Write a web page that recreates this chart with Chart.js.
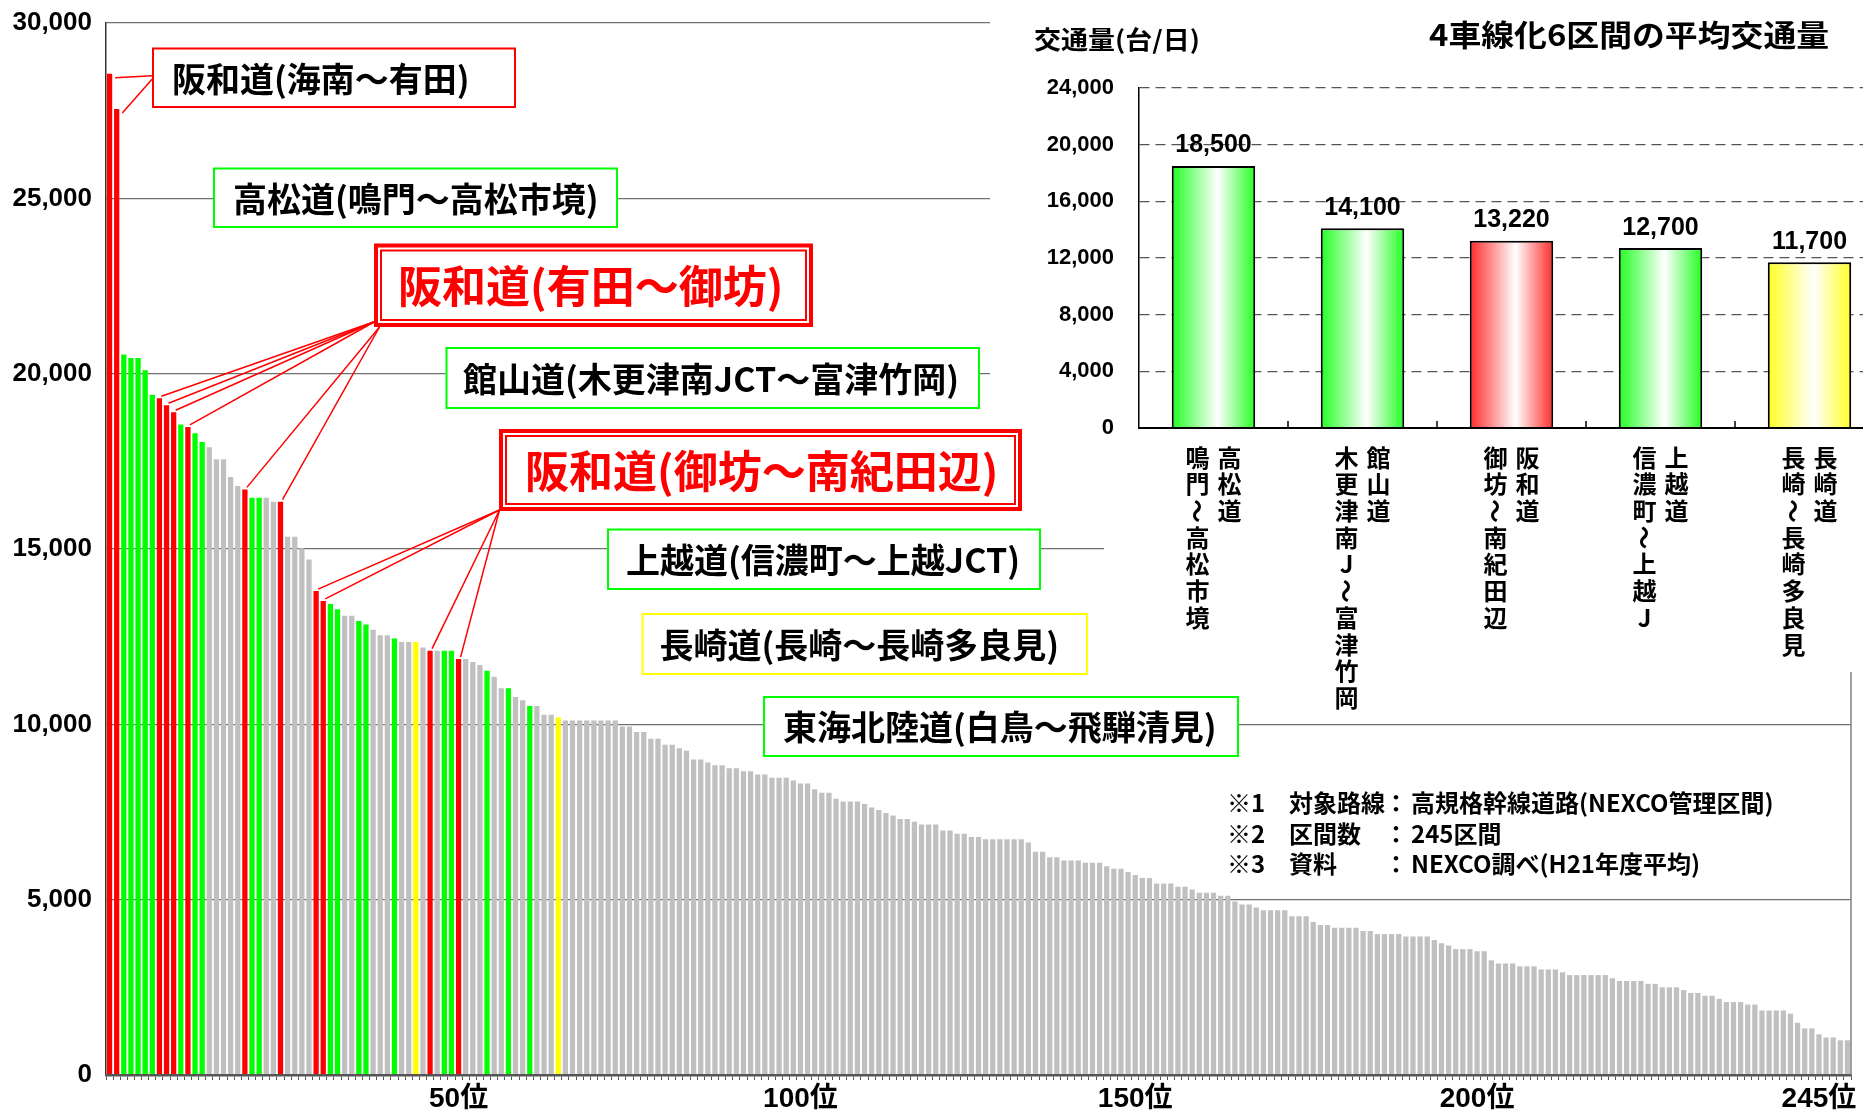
<!DOCTYPE html>
<html lang="ja">
<head>
<meta charset="utf-8">
<title>高規格幹線道路 区間別交通量</title>
<script src="https://cdn.jsdelivr.net/npm/chart.js@4.4.1/dist/chart.umd.min.js"></script>
<style>
  html, body { margin: 0; padding: 0; background: #fff; overflow: hidden; }
  #wrap { position: relative; width: 1863px; height: 1113px; overflow: hidden; background: #fff; }
  #main { position: absolute; left: 0; top: 0; }
  #inset { position: absolute; left: 990px; top: 0; }
</style>
</head>
<body>
<div id="wrap">
  <canvas id="main" width="1863" height="1113"></canvas>
  <canvas id="inset" width="920" height="720"></canvas>
</div>
<script>
// 区間別 平均交通量（台/日）: 1位〜245位
const trafficByRank = [
  28550, 27550, 20550, 20450, 20450, 20100, 19400, 19300, 19100, 18900,
  18550, 18480, 18300, 18050, 17900, 17560, 17560, 17050, 16800, 16700,
  16460, 16460, 16460, 16350, 16350, 15350, 15350, 15020, 14700, 13800,
  13520, 13430, 13280, 13100, 13100, 12950, 12850, 12700, 12540, 12540,
  12450, 12350, 12350, 12350, 12190, 12100, 12100, 12100, 12100, 11860,
  11860, 11780, 11690, 11530, 11360, 11030, 11030, 10780, 10690, 10520,
  10520, 10270, 10270, 10200, 10110, 10110, 10110, 10110, 10110, 10110,
  10110, 10110, 9940, 9940, 9780, 9780, 9590, 9590, 9420, 9420,
  9320, 9250, 9000, 9000, 8910, 8830, 8830, 8750, 8750, 8660,
  8660, 8570, 8570, 8480, 8480, 8480, 8400, 8310, 8310, 8150,
  8050, 8050, 7880, 7800, 7800, 7800, 7730, 7630, 7560, 7470,
  7400, 7300, 7300, 7220, 7140, 7140, 7140, 6970, 6970, 6880,
  6880, 6790, 6790, 6720, 6720, 6720, 6720, 6720, 6720, 6630,
  6370, 6370, 6210, 6210, 6120, 6120, 6120, 6050, 6050, 6050,
  5950, 5880, 5880, 5790, 5700, 5620, 5620, 5460, 5460, 5460,
  5370, 5370, 5290, 5200, 5200, 5200, 5110, 5110, 4950, 4860,
  4860, 4780, 4700, 4700, 4700, 4700, 4530, 4530, 4530, 4360,
  4280, 4280, 4200, 4200, 4200, 4200, 4110, 4110, 4020, 4020,
  4020, 4020, 3950, 3950, 3950, 3950, 3850, 3760, 3690, 3590,
  3590, 3590, 3530, 3530, 3270, 3180, 3180, 3180, 3100, 3100,
  3100, 3010, 3010, 3010, 2930, 2850, 2850, 2850, 2850, 2850,
  2850, 2760, 2680, 2680, 2680, 2680, 2600, 2600, 2500, 2500,
  2500, 2420, 2340, 2340, 2260, 2260, 2170, 2080, 2080, 2080,
  2010, 2010, 1840, 1840, 1840, 1840, 1750, 1490, 1330, 1330,
  1160, 1070, 1070, 990, 990
];

// 4車線化区間の順位（阪和道・緑の4路線・長崎道）
const redRanks = [1, 2, 8, 9, 10, 12, 20, 25, 30, 31, 46, 50];
const greenRanks = [3, 4, 5, 6, 7, 11, 13, 14, 21, 22, 32, 33, 36, 37, 41, 48, 49, 54, 57, 60];
const yellowRanks = [44, 64];

const ranks = trafficByRank.map((_, i) => i + 1);
const yTicks = [0, 5000, 10000, 15000, 20000, 25000, 30000];
// rank labels and the bar they sit under along the axis
const rankTickLabels = { 50: '50位', 98: '100位', 145: '150位', 193: '200位', 241: '245位' };

// 4車線化6区間の平均交通量
const insetRoutes = ['高松道', '館山道', '阪和道', '上越道', '長崎道'];
const insetSections = ['鳴門～高松市境', '木更津南J～富津竹岡', '御坊～南紀田辺', '信濃町～上越J', '長崎～長崎多良見'];
const insetValues = [18500, 14100, 13220, 12700, 11700];
const insetKinds = ['green', 'green', 'red', 'green', 'yellow'];
const insetTicks = [0, 4000, 8000, 12000, 16000, 20000, 24000];

const footnotes = [
  ['※1', '対象路線', '高規格幹線道路(NEXCO管理区間)'],
  ['※2', '区間数', '245区間'],
  ['※3', '資料', 'NEXCO調べ(H21年度平均)']
];

const BAR = { red: '#ff0000', green: '#00ff00', yellow: '#ffff00', gray: '#c0c0c0' };
const GRAD = { red: '#ff2a2a', green: '#22ff22', yellow: '#ffff22' };
const DIGITS = "'Liberation Sans', Arial, 'Noto Sans CJK JP', sans-serif";
const CJK = "'Noto Sans CJK JP', 'Noto Sans CJK SC', sans-serif";

const barColors = ranks.map(r =>
  redRanks.includes(r) ? BAR.red :
  greenRanks.includes(r) ? BAR.green :
  yellowRanks.includes(r) ? BAR.yellow : BAR.gray);

// callout boxes over the ranking chart: [x, y, w, h]
const labelBoxes = [
  { text: '阪和道(海南～有田)', rect: [152, 47.5, 364, 60.5], edge: BAR.red, double: false, ink: '#000', size: 34, pad: 20 },
  { text: '高松道(鳴門～高松市境)', rect: [213, 167.5, 405, 60.5], edge: BAR.green, double: false, ink: '#000', size: 34, pad: 20 },
  { text: '阪和道(有田～御坊)', rect: [374, 243.5, 439, 83.5], edge: BAR.red, double: true, ink: '#ff0000', size: 44, pad: 24 },
  { text: '館山道(木更津南JCT～富津竹岡)', rect: [445.5, 347, 534.5, 62], edge: BAR.green, double: false, ink: '#000', size: 34, pad: 17.5 },
  { text: '阪和道(御坊～南紀田辺)', rect: [499, 429, 523, 82], edge: BAR.red, double: true, ink: '#ff0000', size: 44, pad: 26 },
  { text: '上越道(信濃町～上越JCT)', rect: [607, 528.5, 434, 61.5], edge: BAR.green, double: false, ink: '#000', size: 34, pad: 19 },
  { text: '長崎道(長崎～長崎多良見)', rect: [641.5, 613, 446.5, 62], edge: BAR.yellow, double: false, ink: '#000', size: 34, pad: 18 },
  { text: '東海北陸道(白鳥～飛騨清見)', rect: [763, 696, 476, 61], edge: BAR.green, double: false, ink: '#000', size: 34, pad: 20 }
];

// leader lines from the 阪和道 boxes to their bars
const leaders = [
  { from: [152, 75.7], ranks: [1], tip: 'side' },
  { from: [152, 79.3], ranks: [2], tip: 'side' },
  { from: [375, 321.5], ranks: [8, 9, 10, 12], tip: 'top' },
  { from: [379.5, 327], ranks: [20, 25], tip: 'top' },
  { from: [499.5, 510], ranks: [30, 31, 46, 50], tip: 'top' }
];

function drawText(ctx, str, x, y, font, color, align, scaleX) {
  ctx.save();
  ctx.font = font;
  ctx.fillStyle = color;
  ctx.textAlign = align || 'left';
  ctx.textBaseline = 'middle';
  ctx.translate(x, y);
  ctx.scale(scaleX || 1, 1);
  ctx.fillText(str, 0, 0);
  ctx.restore();
}

const mainDecor = {
  id: 'mainDecor',
  afterDraw(chart) {
    const ctx = chart.ctx;
    const area = chart.chartArea;
    const bars = chart.getDatasetMeta(0).data;

    // plot-area right edge
    ctx.save();
    ctx.strokeStyle = '#808080';
    ctx.lineWidth = 1.5;
    ctx.beginPath();
    ctx.moveTo(area.right, area.top);
    ctx.lineTo(area.right, area.bottom);
    ctx.stroke();
    ctx.restore();

    // boxes
    labelBoxes.forEach(b => {
      const [x, y, w, h] = b.rect;
      ctx.save();
      ctx.fillStyle = '#fff';
      ctx.fillRect(x, y, w, h);
      ctx.strokeStyle = b.edge;
      if (b.double) {
        ctx.lineWidth = 4;
        ctx.strokeRect(x + 2, y + 2, w - 4, h - 4);
        ctx.lineWidth = 2;
        ctx.strokeRect(x + 7, y + 7, w - 14, h - 14);
      } else {
        ctx.lineWidth = 2;
        ctx.strokeRect(x + 1, y + 1, w - 2, h - 2);
      }
      ctx.restore();
      drawText(ctx, b.text, x + b.pad, y + h / 2 + 1, `bold ${b.size}px ${CJK}`, b.ink, 'left', 1);
    });

    // leaders
    ctx.save();
    ctx.strokeStyle = '#ff0000';
    ctx.lineWidth = 1.5;
    leaders.forEach(l => {
      l.ranks.forEach(r => {
        const el = bars[r - 1];
        const tx = l.tip === 'side' ? el.x + el.width / 2 + 3 : el.x + 2;
        const ty = l.tip === 'side' ? el.y + 4 : el.y - 2;
        ctx.beginPath();
        ctx.moveTo(l.from[0], l.from[1]);
        ctx.lineTo(tx, ty);
        ctx.stroke();
      });
    });
    ctx.restore();

    // notes
    const nf = `bold 24px ${CJK}`;
    footnotes.forEach((row, k) => {
      const y = 803 + k * 30.5;
      drawText(ctx, row[0], 1227, y, nf, '#000', 'left', 1);
      drawText(ctx, row[1], 1289, y, nf, '#000', 'left', 1);
      drawText(ctx, '：', 1396, y, nf, '#000', 'center', 1);
      drawText(ctx, row[2], 1411, y, nf, '#000', 'left', 1);
    });
  }
};

new Chart(document.getElementById('main'), {
  type: 'bar',
  data: {
    labels: ranks,
    datasets: [{
      data: trafficByRank,
      backgroundColor: barColors,
      borderWidth: 0,
      barPercentage: 0.74,
      categoryPercentage: 1.0
    }]
  },
  options: {
    responsive: false,
    animation: false,
    events: [],
    layout: { padding: { top: 23, right: 12, left: 0, bottom: 0 } },
    plugins: { legend: { display: false }, tooltip: { enabled: false } },
    scales: {
      x: {
        grid: { offset: true, drawOnChartArea: false, drawTicks: true, tickLength: 5, color: '#555', lineWidth: 1 },
        border: { color: '#555', width: 2.5, z: 1 },
        ticks: {
          autoSkip: false, maxRotation: 0, minRotation: 0, padding: 2, color: '#000',
          font: { family: DIGITS, size: 28, weight: 'bold' },
          callback: (v, i) => rankTickLabels[i + 1] || ''
        },
        afterFit: s => { s.height = 38; s.paddingLeft = 0; s.paddingRight = 0; }
      },
      y: {
        min: 0, max: 30000,
        afterBuildTicks: s => { s.ticks = yTicks.map(v => ({ value: v })); },
        grid: { color: '#707070', lineWidth: 1.2, drawTicks: false },
        border: { color: '#333', width: 1.5 },
        ticks: {
          padding: 14, color: '#000',
          font: { family: DIGITS, size: 26, weight: 'bold' },
          callback: v => v.toLocaleString('en-US')
        },
        afterFit: s => { s.width = 106; s.paddingTop = 0; s.paddingBottom = 0; }
      }
    }
  },
  plugins: [mainDecor]
});

// ---- inset: 4車線化6区間の平均交通量 ----
function insetFill(context) {
  const kind = insetKinds[context.dataIndex];
  const base = GRAD[kind] || GRAD.green;
  const chart = context.chart;
  const xs = chart.scales && chart.scales.x;
  if (context.dataIndex === undefined || !chart.chartArea || !xs) return base;
  const cx = xs.getPixelForValue(context.dataIndex);
  const half = xs.width / insetValues.length * 0.56 / 2;
  const g = chart.ctx.createLinearGradient(cx - half, 0, cx + half, 0);
  g.addColorStop(0, base);
  g.addColorStop(0.55, '#ffffff');
  g.addColorStop(1, base);
  return g;
}

function drawColumn(ctx, str, x, y0, pitch) {
  [...str].forEach((ch, k) => {
    const y = y0 + k * pitch;
    if (ch === '～') {
      ctx.save();
      ctx.translate(x, y);
      ctx.rotate(Math.PI / 2);
      ctx.fillText(ch, 0, 0);
      ctx.restore();
    } else {
      ctx.fillText(ch, x, y);
    }
  });
}

const insetDecor = {
  id: 'insetDecor',
  beforeDraw(chart) {
    const ctx = chart.ctx;
    ctx.save();
    ctx.fillStyle = '#fff';
    ctx.fillRect(0, 0, chart.width, 420);
    ctx.fillRect(114, 420, chart.width - 114, 252);
    ctx.restore();
  },
  afterDatasetsDraw(chart) {
    const ctx = chart.ctx;
    ctx.save();
    ctx.font = `bold 25px ${DIGITS}`;
    ctx.fillStyle = '#000';
    ctx.textAlign = 'center';
    ctx.textBaseline = 'alphabetic';
    chart.getDatasetMeta(0).data.forEach((el, i) => {
      ctx.fillText(insetValues[i].toLocaleString('en-US'), el.x, el.y - 13.5);
    });
    ctx.restore();
  },
  afterDraw(chart) {
    const ctx = chart.ctx;
    const xs = chart.scales.x;
    const area = chart.chartArea;

    // category separators on the axis
    ctx.save();
    ctx.strokeStyle = '#000';
    ctx.lineWidth = 1.5;
    for (let i = 1; i < insetRoutes.length; i++) {
      const x = (xs.getPixelForValue(i - 1) + xs.getPixelForValue(i)) / 2;
      ctx.beginPath();
      ctx.moveTo(x, area.bottom);
      ctx.lineTo(x, area.bottom - 7);
      ctx.stroke();
    }
    ctx.restore();

    // vertical category names: route on the right column, section on the left
    ctx.save();
    ctx.font = `bold 24px ${CJK}`;
    ctx.fillStyle = '#000';
    ctx.textAlign = 'center';
    ctx.textBaseline = 'middle';
    const y0 = area.bottom + 29.5;
    insetRoutes.forEach((road, i) => {
      const cx = xs.getPixelForValue(i);
      drawColumn(ctx, road, cx + 16, y0, 26.7);
      drawColumn(ctx, insetSections[i], cx - 16, y0, 26.7);
    });
    ctx.restore();

    drawText(ctx, '交通量(台/日)', 44, 39, `bold 25px ${CJK}`, '#000', 'left', 1.08);
    drawText(ctx, '4車線化6区間の平均交通量', 439, 34.5, `bold 30px ${CJK}`, '#000', 'left', 1.095);
  }
};

new Chart(document.getElementById('inset'), {
  type: 'bar',
  data: {
    labels: insetRoutes,
    datasets: [{
      data: insetValues,
      backgroundColor: insetFill,
      borderColor: '#000',
      borderWidth: 2,
      barPercentage: 0.56,
      categoryPercentage: 1.0
    }]
  },
  options: {
    responsive: false,
    animation: false,
    events: [],
    layout: { padding: { top: 88, right: 26, left: 0, bottom: 0 } },
    plugins: { legend: { display: false }, tooltip: { enabled: false } },
    scales: {
      x: {
        ticks: { display: false },
        grid: { display: false },
        border: { color: '#000', width: 2, z: 1 },
        afterFit: s => { s.height = 292; }
      },
      y: {
        min: 0, max: 24000,
        afterBuildTicks: s => { s.ticks = insetTicks.map(v => ({ value: v })); },
        grid: { color: '#555', lineWidth: 1.2, drawTicks: false },
        border: { color: '#000', width: 1.5, dash: [10, 6] },
        ticks: {
          padding: 25, color: '#000',
          font: { family: DIGITS, size: 22, weight: 'bold' },
          callback: v => v.toLocaleString('en-US')
        },
        afterFit: s => { s.width = 149; s.paddingTop = 0; s.paddingBottom = 0; }
      }
    }
  },
  plugins: [insetDecor]
});
</script>
</body>
</html>
